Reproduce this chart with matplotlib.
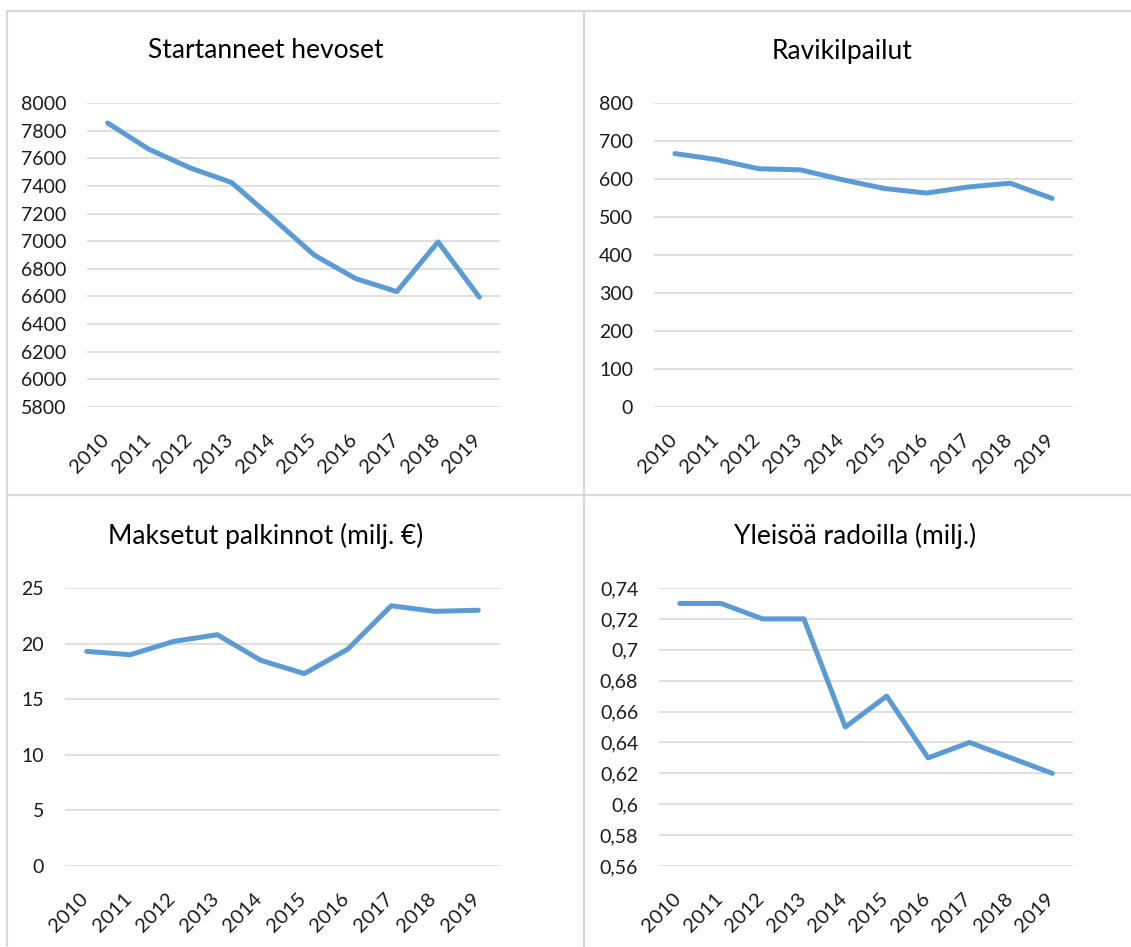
import matplotlib
matplotlib.use("Agg")
import matplotlib.pyplot as plt
from matplotlib.lines import Line2D
from matplotlib.ticker import FuncFormatter
from matplotlib.transforms import ScaledTranslation
import numpy as np

years = ["2010", "2011", "2012", "2013", "2014", "2015", "2016", "2017", "2018", "2019"]

horses = [7855, 7665, 7530, 7425, 7165, 6900, 6730, 6635, 6995, 6595]
races = [667, 651, 627, 624, 598, 575, 563, 579, 589, 549]
prizes = [19.3, 19.0, 20.2, 20.8, 18.5, 17.3, 19.5, 23.4, 22.9, 23.0]
audience = [0.73, 0.73, 0.72, 0.72, 0.65, 0.67, 0.63, 0.64, 0.63, 0.62]

titles = ["Startanneet hevoset", "Ravikilpailut",
          "Maksetut palkinnot (milj. €)", "Yleisöä radoilla (milj.)"]

plt.rcParams['font.family'] = ['Lato', 'DejaVu Sans']

W, H = 1131, 947
fig = plt.figure(figsize=(W / 100, H / 100), dpi=100)
fig.patch.set_facecolor('white')

LINE = '#5b9bd5'
GRID = '#d9d9d9'
TXT = '#1a1a1a'


def box(x0, y0, x1, y1):
    return [x0 / W, 1 - y1 / H, (x1 - x0) / W, (y1 - y0) / H]


def fmt(v, pos):
    s = f"{round(v, 2):g}"
    return s.replace('.', ',')


def panel(rect, values, ymin, ymax, step, title, tx, ty):
    ax = fig.add_axes(rect)
    x = np.arange(len(years))
    ax.plot(x, values, color=LINE, lw=3.6, solid_joinstyle='round',
            solid_capstyle='round', zorder=3)
    ax.set_xlim(-0.5, len(years) - 0.5)
    ax.set_ylim(ymin, ymax)
    ax.set_yticks(np.arange(ymin, ymax + step / 2, step))
    ax.yaxis.set_major_formatter(FuncFormatter(fmt))
    ax.set_xticks(x)
    ax.set_xticklabels(years, rotation=45, ha='right', va='top')
    ax.grid(axis='y', color=GRID, lw=1.2)
    ax.set_axisbelow(True)
    for s in ax.spines.values():
        s.set_visible(False)
    ax.tick_params(axis='y', length=0, pad=15, labelsize=14, labelcolor=TXT)
    ax.tick_params(axis='x', length=0, pad=17, labelsize=14.5, labelcolor=TXT)
    shift = ScaledTranslation(0.05, 0, fig.dpi_scale_trans)
    for lab in ax.get_xticklabels():
        lab.set_transform(lab.get_transform() + shift)
    fig.text(tx / W, 1 - ty / H, title, ha='center', va='center',
             fontsize=19, color='black')
    return ax


panel(box(87, 103, 500, 407), horses, 5800, 8000, 200, titles[0], 266, 51)
panel(box(654, 103, 1073, 407), races, 0, 800, 100, titles[1], 842, 51)
panel(box(65, 588, 500, 866), prizes, 0, 25, 5, titles[2], 266, 536)
panel(box(659, 588, 1073, 866), audience, 0.56, 0.74, 0.02, titles[3], 855, 536)


# chart frame borders
def hline(y, x0, x1):
    fig.add_artist(Line2D([x0 / W, x1 / W], [1 - y / H, 1 - y / H],
                          color=GRID, lw=1.6, transform=fig.transFigure))


def vline(x, y0, y1):
    fig.add_artist(Line2D([x / W, x / W], [1 - y0 / H, 1 - y1 / H],
                          color=GRID, lw=1.6, transform=fig.transFigure))


hline(11, 7, 1131)
hline(495, 7, 1131)
vline(7, 11, 945)
vline(584, 11, 947)

fig.savefig("out.png", dpi=100, facecolor='white')
